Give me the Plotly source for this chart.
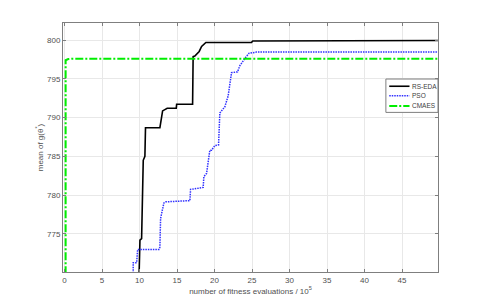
import plotly.graph_objects as go

# RS-EDA
rs_x = [9.9, 9.96, 10.06, 10.28, 10.5, 10.72, 10.8, 12.72, 13.08, 13.69, 14.9, 14.95, 17.08, 17.15, 17.38, 17.96, 18.28, 18.85, 24.94, 25.1, 49.8]
rs_y = [768, 770.1, 774.2, 774.4, 784.5, 785.0, 788.7, 788.7, 790.87, 791.21, 791.21, 791.73, 791.73, 797.88, 797.95, 798.53, 799.17, 799.69, 799.7, 799.87, 799.95]

# PSO
pso_x = [9.16, 9.16, 9.62, 9.75, 12.59, 12.72, 12.81, 13.25, 13.52, 16.72, 16.81, 18.49, 18.58, 18.94, 19.38, 19.61, 20.05, 20.54, 20.71, 21.38, 21.82, 22.27, 23.07, 23.38, 24.18, 24.62, 25.6, 49.8]
pso_y = [768, 771.3, 771.3, 773.0, 773.0, 773.3, 777.0, 779.0, 779.15, 779.3, 780.75, 781.0, 782.4, 782.8, 785.8, 785.8, 786.4, 786.5, 790.6, 791.4, 792.8, 795.8, 795.9, 796.7, 797.8, 798.3, 798.45, 798.45]

# CMAES
cm_x = [0.15, 0.15, 0.5, 1.0, 49.8]
cm_y = [768, 797.4, 797.55, 797.6, 797.6]

x_ticks = [0, 5, 10, 15, 20, 25, 30, 35, 40, 45]
y_ticks = [775, 780, 785, 790, 795, 800]

series = [
    ("RS-EDA", rs_x, rs_y, dict(color="#000000", width=1.6)),
    ("PSO", pso_x, pso_y, dict(color="#3030ff", width=1.5, dash="1.5px,1px")),
    ("CMAES", cm_x, cm_y, dict(color="#00ee00", width=2, dash="8px,2px,2px,2px")),
]

fig = go.Figure()
for name, xs, ys, ln in series:
    fig.add_trace(go.Scatter(x=xs, y=ys, mode="lines", name=name, line=ln,
                             showlegend=False))

# compact MATLAB-style legend box (paper coordinates)
lg_x0, lg_x1, lg_y0, lg_y1 = 0.861, 1.0, 0.641, 0.775
fig.add_shape(type="rect", xref="paper", yref="paper",
              x0=lg_x0, x1=lg_x1, y0=lg_y0, y1=lg_y1,
              line=dict(color="#7f7f7f", width=1), fillcolor="white", layer="above")
entry_y = [0.746, 0.708, 0.667]
for (name, xs, ys, ln), ey in zip(series, entry_y):
    fig.add_shape(type="line", xref="paper", yref="paper",
                  x0=0.870, x1=0.924, y0=ey, y1=ey,
                  line=dict(color=ln["color"], width=ln["width"],
                            dash=ln.get("dash", "solid")), layer="above")
    fig.add_annotation(x=0.924, y=ey, xref="paper", yref="paper", text=name,
                       showarrow=False, xanchor="left", yanchor="middle",
                       font=dict(family="Liberation Sans, Arial", size=6.5, color="#404040"))

axis_common = dict(
    showline=True, linecolor="#7f7f7f", linewidth=1, mirror="ticks",
    ticks="inside", ticklen=3, tickcolor="#7f7f7f", automargin=False,
    showgrid=True, gridcolor="#e8e8e8", gridwidth=1, zeroline=False,
    tickfont=dict(family="Liberation Sans, Arial", size=8, color="#505050"),
)

# page body has an 8px default margin, so the figure is sized to fit the window
fig.update_layout(
    width=477, height=297,
    margin=dict(l=55, r=47, t=15, b=33),
    paper_bgcolor="white", plot_bgcolor="white",
    font=dict(family="Liberation Sans, Arial", size=8, color="#505050"),
    xaxis=dict(range=[-0.2, 49.8], tickvals=x_ticks,
               title=dict(text="number of fitness evaluations / 10<sup>5</sup>",
                          font=dict(size=8, color="#505050"), standoff=4),
               **axis_common),
    yaxis=dict(range=[770.1, 802.2], tickvals=y_ticks,
               title=dict(text="mean of g(θ<sup>*</sup>)",
                          font=dict(size=8, color="#505050"), standoff=2),
               **axis_common),
    showlegend=False,
)

fig.write_html("out.html")
